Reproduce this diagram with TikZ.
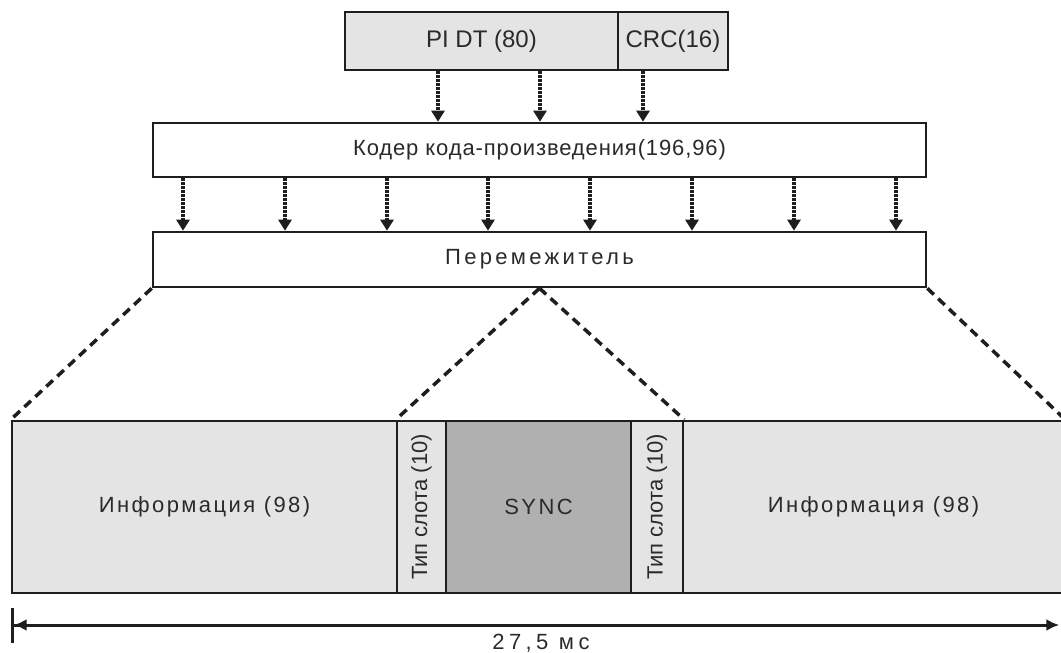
\documentclass[tikz,border=0pt]{standalone}
\usepackage{fontspec}
\setmainfont{Liberation Sans}
\newfontfamily\lsA[LetterSpace=4]{Liberation Sans}
\newfontfamily\lsB[LetterSpace=11]{Liberation Sans}
\newfontfamily\lsC[LetterSpace=15]{Liberation Sans}
\newfontfamily\lsD[LetterSpace=20]{Liberation Sans}
\usetikzlibrary{arrows.meta,calc}
\definecolor{lc}{HTML}{1E1E1E}
\definecolor{lgc}{HTML}{E4E4E4}
\definecolor{dgc}{HTML}{B0B0B0}
\definecolor{tc}{HTML}{2A2A2A}
\begin{document}
\begin{tikzpicture}[x=1pt,y=-1pt,
  bx/.style={draw=lc, line width=2.6pt, inner sep=0pt, text=tc, font=\fontsize{22}{26}\selectfont},
  gbox/.style={bx, fill=lgc},
  wbox/.style={bx, fill=white},
  sbox/.style={bx, fill=dgc},
  dar/.style={draw=lc, line width=3.8pt, dash pattern=on 2.5pt off 1.5pt, -{Triangle[width=13pt,length=11pt]}},
  dsh/.style={draw=lc, line width=3.5pt, dash pattern=on 9pt off 6pt},
  dim/.style={draw=lc, line width=3pt, {Bar[width=35pt,line width=3pt]Latex[length=13pt,width=12pt]}-{Latex[length=13pt,width=12pt]}}
]
\useasboundingbox (0,0) rectangle (1061,653);
% top
\node[gbox, minimum width=273pt, minimum height=58pt, font=\fontsize{24}{28}\selectfont] (pidt) at (481.5,41) {PI DT (80)};
\node[gbox, minimum width=110pt, minimum height=58pt, font=\fontsize{24}{28}\selectfont] (crc) at (673,41) {CRC(16)};
% coder
\node[wbox, minimum width=773pt, minimum height=54pt] (coder) at (539.5,150) {\lsA Кодер кода-произведения(196,96)};
% interleaver
\node[wbox, minimum width=773pt, minimum height=55pt] (inter) at (539.5,259.5) {\lsC Перемежитель};
% bottom row
\node[gbox, minimum width=385pt, minimum height=172pt] (info1) at (204.5,507) {\lsB Информация (98)};
\node[gbox, minimum width=49pt, minimum height=172pt] (slot1) at (421.5,507) {};
\node[sbox, minimum width=185pt, minimum height=172pt] (sync) at (538.5,507) {\lsB SYNC};
\node[gbox, minimum width=52pt, minimum height=172pt] (slot2) at (657,507) {};
\node[gbox, minimum width=381pt, minimum height=172pt] (info2) at (873.5,507) {\lsB Информация (98)};
\node[rotate=90, text=tc, font=\fontsize{22}{26}\selectfont, inner sep=0pt] (t1) at (slot1.center) {Тип слота (10)};
\node[rotate=90, text=tc, font=\fontsize{22}{26}\selectfont, inner sep=0pt] (t2) at (slot2.center) {Тип слота (10)};
% arrows top -> coder
\draw[dar] (438,0 |- pidt.south) -- (438,0 |- coder.north);
\draw[dar] (540,0 |- pidt.south) -- (540,0 |- coder.north);
\draw[dar] (643,0 |- crc.south) -- (643,0 |- coder.north);
% arrows coder -> interleaver
\foreach \x in {183,285,387,488,590,692,794,896}
  \draw[dar] (\x,0 |- coder.south) -- (\x,0 |- inter.north);
% dashed expansion lines
\draw[dsh] (inter.south west) -- (info1.north west);
\draw[dsh] (inter.south east) -- (info2.north east);
\draw[dsh] (inter.south) -- (slot1.north west);
\draw[dsh] (inter.south) -- (slot2.north east);
% duration
\coordinate (dl) at (info1.west |- 0,625);
\coordinate (dr) at ($(info2.east |- 0,625)+(-6,0)$);
\draw[dim] (dl) -- (dr);
\node[anchor=base, inner sep=0pt, text=tc, font=\fontsize{22}{26}\lsD] (dur) at (541,649) {27,5 мс};
\end{tikzpicture}
\end{document}
